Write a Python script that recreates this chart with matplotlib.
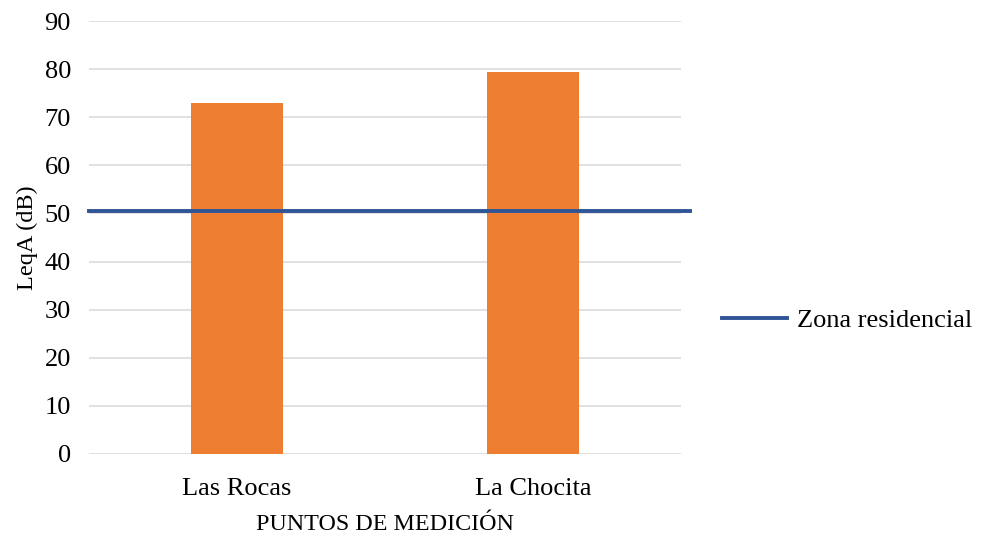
import matplotlib.pyplot as plt
import numpy as np

plt.rcParams['font.family'] = ['Liberation Serif', 'DejaVu Serif']

puntos = ["Las Rocas", "La Chocita"]
leq_a = [73.0, 79.4]
limite_residencial = 50.5
y_ticks = np.arange(0, 91, 10)

fig = plt.figure(figsize=(9.81, 5.36), dpi=100)
ax = fig.add_axes([89 / 981, 1 - 454 / 536, (681 - 89) / 981, (454 - 21) / 536])

x = np.arange(len(puntos))
ax.bar(x, leq_a, width=0.31, color="#ED7D31", zorder=2)
ax.axhline(limite_residencial, xmin=0, xmax=1.016, color="#2F5597",
           linewidth=2.8, clip_on=False, zorder=3, label="Zona residencial")

ax.set_xlim(-0.5, len(puntos) - 0.5)
ax.set_ylim(0, 90)
ax.set_yticks(y_ticks)
ax.set_xticks(x)
ax.set_xticklabels(puntos)
ax.tick_params(axis="both", length=0, labelsize=19)
ax.tick_params(axis="y", pad=13)
ax.tick_params(axis="x", pad=17.5)
ax.grid(axis="y", color="#d9d9d9", linewidth=1.1, zorder=0)
for s in ax.spines.values():
    s.set_visible(False)

ax.set_ylabel("LeqA (dB)", fontsize=17.5, labelpad=5)
ax.set_xlabel("PUNTOS DE MEDICIÓN", fontsize=17.3, labelpad=10)

fig.legend(loc="center left", bbox_to_anchor=(698 / 981, 1 - 320 / 536),
           frameon=False, fontsize=19, handlelength=2.46, handletextpad=0.38)

fig.savefig("out.png", dpi=100)
